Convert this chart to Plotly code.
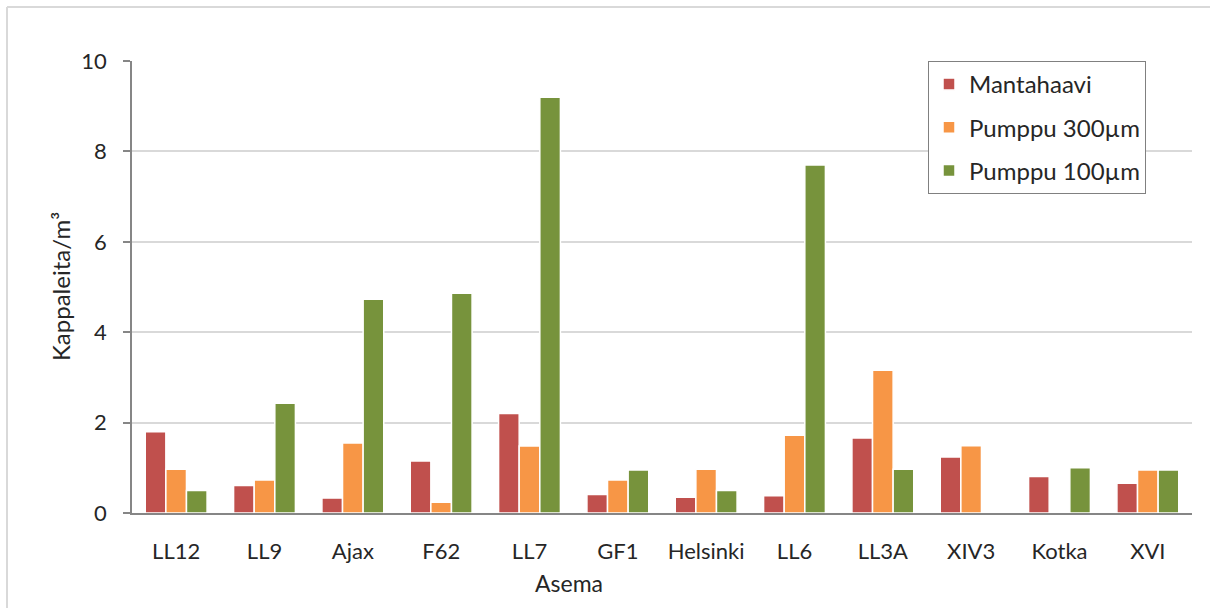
import plotly.graph_objects as go

# Sampling stations and particle concentrations (pieces per m³)
asemat = ["LL12", "LL9", "Ajax", "F62", "LL7", "GF1", "Helsinki", "LL6", "LL3A", "XIV3", "Kotka", "XVI"]
mantahaavi = [1.80, 0.61, 0.33, 1.15, 2.20, 0.41, 0.35, 0.38, 1.66, 1.24, 0.81, 0.66]
pumppu_300 = [0.97, 0.73, 1.55, 0.24, 1.48, 0.73, 0.97, 1.72, 3.16, 1.49, None, 0.95]
pumppu_100 = [0.50, 2.43, 4.73, 4.86, 9.20, 0.95, 0.50, 7.70, 0.97, None, 1.00, 0.95]

y_ticks = [0, 2, 4, 6, 8, 10]

series = [
    ("Mantahaavi", mantahaavi, "#C0504D"),
    ("Pumppu 300µm", pumppu_300, "#F79646"),
    ("Pumppu 100µm", pumppu_100, "#77933C"),
]

FONT = "Lato"
TEXT = "#262626"

fig = go.Figure()
for i, (name, vals, color) in enumerate(series):
    fig.add_trace(go.Bar(
        x=asemat, y=vals, name=name, legendgroup=f"g{i}",
        marker=dict(color=color, line=dict(color="white", width=1.5)),
    ))

L, R, T, B = 132, 18, 61, 95
W, H = 1210, 608
pw, ph = W - L - R, H - T - B

def px_x(x):
    return (x - L) / pw

def px_y(y):
    return (H - B - y) / ph

frame = "#d9d9d9"
shapes = [
    dict(type="line", xref="paper", yref="paper", x0=px_x(7), x1=px_x(7),
         y0=px_y(7), y1=px_y(H + 5), line=dict(color=frame, width=2)),
    dict(type="line", xref="paper", yref="paper", x0=px_x(7), x1=px_x(W + 5),
         y0=px_y(7), y1=px_y(7), line=dict(color=frame, width=2)),
]

annotations = [
    dict(text="Kappaleita/m³", xref="paper", yref="paper", x=px_x(60), y=0.5,
         textangle=-90, showarrow=False, font=dict(family=FONT, size=24, color=TEXT),
         xanchor="center", yanchor="middle"),
    dict(text="Asema", xref="paper", yref="paper", x=px_x(569), y=px_y(583),
         showarrow=False, font=dict(family=FONT, size=23, color=TEXT),
         xanchor="center", yanchor="middle"),
]

fig.update_layout(
    width=W, height=H,
    margin=dict(l=L, r=R, t=T, b=B),
    paper_bgcolor="white", plot_bgcolor="white",
    barmode="group", bargap=0.3, bargroupgap=0,
    font=dict(family=FONT, size=22, color=TEXT),
    showlegend=True,
    legend=dict(
        x=px_x(928), y=1, xanchor="left", yanchor="top",
        bordercolor="#808080", borderwidth=1, bgcolor="white",
        font=dict(family=FONT, size=24, color=TEXT),
        tracegroupgap=9, traceorder="grouped",
    ),
    shapes=shapes,
    annotations=annotations,
    xaxis=dict(
        showline=True, linecolor="#868686", linewidth=1.5,
        ticks="", showgrid=False, ticklabelstandoff=18,
        tickfont=dict(family=FONT, size=22, color=TEXT),
    ),
    yaxis=dict(
        range=[0, 10], tickvals=y_ticks, showline=True, linecolor="#868686", linewidth=1.5,
        ticks="outside", ticklen=7, tickcolor="#868686", tickwidth=1.5,
        showgrid=True, gridcolor="#d9d9d9", gridwidth=1.5,
        zeroline=False, ticklabelstandoff=12,
        tickfont=dict(family=FONT, size=22, color=TEXT),
    ),
)

fig.write_html("out.html")
